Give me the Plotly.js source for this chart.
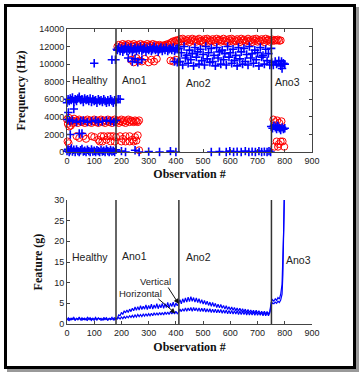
<!DOCTYPE html>
<html><head><meta charset="utf-8">
<script src="https://cdn.plot.ly/plotly-3.0.1.min.js"></script>
<style>
html,body{margin:0;padding:0;background:#fff;}
#wrap{position:relative;width:361px;height:374px;}
#chart{position:absolute;left:0;top:0;width:361px;height:374px;}
#frame{position:absolute;left:4px;top:4px;width:346px;height:359px;border:3px solid #000;box-shadow:3px 3px 0 #999;pointer-events:none;}
</style></head>
<body><div id="wrap"><div id="chart"></div><div id="frame"></div></div>
<script>
// ---- class boundaries and labels ----
const boundaries = [180, 411, 751];
const classLabels = ["Healthy", "Ano1", "Ano2", "Ano3"];
const labelObsTop = [12, 193, 428, 757];
const labelValTop = [8200, 8200, 7900, 8000];
const labelObsBot = [12, 193, 428, 797];
const labelValBot = [16.1, 16.5, 16.2, 15.4];

// ---- top panel: red circles (pairs obs, Hz) ----
const redBand3500 = [[0,3700],[3,3200],[6,3900],[8,2900],[10,3500],[14,3000],[18,3600],[22,3300],[26,3800],[30,3400],[35,3600],[40,3300],[45,3700],[50,3500],[55,3400],[60,3600],[65,3300],[70,3500],[75,3700],[80,3400],[85,3600],[90,3300],[95,3500],[100,3700],[105,3400],[110,3600],[115,3300],[120,3500],[125,3700],[130,3400],[135,3600],[140,3300],[145,3500],[150,3700],[155,3400],[160,3600],[165,3300],[170,3500],[175,3700],[180,3400],[185,3600],[190,3300],[195,3500],[200,3700],[205,3400],[210,3600],[215,3300],[220,3500],[225,3700],[230,3400],[235,3600],[240,3500],[245,3400],[250,3600],[255,3500],[260,3400],[265,3600]];
const redLow = [[35,1800],[45,1600],[60,1800],[70,1500],[90,1800],[100,1700],[115,1400],[125,1800],[135,1800],[145,1400],[150,1800],[160,1800],[170,1800],[180,1700],[195,1800],[205,1500],[215,1800],[230,1800],[240,1400],[250,1700],[260,1900],[2,1200],[6,1000],[120,1200],[130,1200],[160,1200],[175,1200],[200,1200],[215,1200],[230,1200],[245,1200],[255,1300],[265,200]];
const redAno1Top = [[185,12000],[190,12200],[195,11900],[200,12100],[205,12300],[210,12000],[215,12200],[220,12100],[225,12300],[230,11900],[235,12200],[240,12000],[245,12300],[250,12100],[255,11900],[260,12200],[265,12000],[270,12300],[275,12100],[280,12200],[285,11900],[290,12100],[295,12300],[300,12000],[305,12200],[310,12100],[315,12300],[320,11900],[325,12200],[330,12000],[335,12100],[340,12200],[345,11900],[350,12100],[355,12000],[360,12200],[365,12100],[370,12300],[375,12200],[380,12400],[385,12500],[390,12600],[395,12500],[400,12700]];
const redAno2Top = [[405,12700],[410,12500],[415,12850],[420,12600],[425,12900],[430,12550],[435,12750],[440,12650],[445,12850],[450,12500],[455,12700],[460,12900],[465,12600],[470,12800],[475,12550],[480,12750],[485,12900],[490,12600],[495,12700],[500,12500],[505,12850],[510,12650],[515,12900],[520,12550],[525,12750],[530,12600],[535,12850],[540,12700],[545,12500],[550,12900],[555,12650],[560,12800],[565,12550],[570,12700],[575,12900],[580,12600],[585,12750],[590,12500],[595,12850],[600,12650],[605,12900],[610,12550],[615,12750],[620,12600],[625,12850],[630,12700],[635,12500],[640,12900],[645,12650],[650,12800],[655,12550],[660,12700],[665,12900],[670,12600],[675,12750],[680,12500],[685,12850],[690,12650],[695,12900],[700,12550],[705,12750],[710,12600],[715,12850],[720,12700],[725,12500],[730,12900],[735,12650],[740,12800],[745,12550],[750,12700],[755,12800],[760,12650],[765,12750],[770,12700],[775,12800],[780,12650],[785,12700]];
const redMid = [[235,10500],[245,10200],[255,10700],[265,10400],[275,10300],[285,10600],[300,10200],[310,10500],[320,10300],[330,10600],[380,10400],[390,10300],[400,10500]];
const redAno3 = [[758,3700],[765,3400],[772,3600],[780,3300],[788,3500],[762,600],[770,1200],[778,900],[785,1200],[792,1200],[798,600],[775,600]];

// ---- top panel: blue crosses (pairs obs, Hz) ----
const blueZero = [[0,100],[4,300],[8,0],[12,200],[16,400],[20,50],[25,250],[30,0],[35,300],[40,100],[45,0],[50,200],[55,350],[60,50],[65,150],[70,0],[75,250],[80,100],[85,0],[90,300],[95,50],[100,150],[105,0],[110,200],[115,100],[120,0],[125,250],[130,50],[135,150],[140,0],[145,300],[150,100],[155,0],[160,200],[165,50],[170,150],[175,0],[180,250],[200,100],[215,0],[250,200],[265,0],[300,50],[340,0],[380,100],[400,0],[530,0],[560,50],[585,0],[598,100],[612,0],[625,50],[640,0],[655,100],[668,0],[680,50],[692,0],[705,100],[715,0],[725,50],[735,0],[742,100],[748,0]];
const blue6000 = [[0,5600],[4,6000],[8,5800],[12,6100],[16,5900],[20,6200],[25,5700],[30,6000],[35,5800],[40,6100],[45,6300],[50,5900],[55,6000],[60,5700],[65,6100],[70,5900],[75,6000],[80,5800],[85,6100],[90,5700],[95,6000],[100,5800],[105,5900],[110,5600],[115,6000],[120,5800],[125,5900],[130,5700],[135,6000],[140,5800],[145,5600],[150,5900],[155,5700],[160,6000],[165,5800],[170,5600],[175,5900],[180,5700],[188,6000],[195,6000]];
const blue3500 = [[2,3700],[10,3500],[20,3600],[35,3400],[50,3500],[60,3600],[75,3400],[90,3500],[105,3600],[115,3400],[130,3500],[145,3600],[160,3500],[172,3400],[180,3600]];
const blueOut = [[5,4500],[25,4900],[12,2000],[45,2100],[55,2100],[100,10100],[165,10500],[178,10500],[183,11700]];
const blueAno1 = [[185,11600],[190,11900],[195,11500],[200,11800],[205,11400],[210,11700],[215,12000],[220,11500],[225,11800],[230,11600],[235,11900],[240,11400],[245,11700],[250,11900],[255,11500],[260,11800],[265,11600],[270,12000],[275,11500],[280,11700],[285,11900],[290,11400],[295,11800],[300,11600],[305,11900],[310,11500],[315,11700],[320,12000],[325,11600],[330,11800],[335,11400],[340,11700],[345,11900],[350,11500],[355,11800],[360,11600],[365,11900],[370,11500],[375,11700],[380,11800],[385,11600],[390,11900],[395,11500],[400,11700],[405,11800],[225,10700],[240,10300],[250,10600],[260,10200],[275,10500],[395,10300],[405,10200]];
const blueAno2 = [[410,11800],[415,10300],[420,11300],[425,9900],[430,12000],[435,10700],[440,11000],[445,10100],[450,11600],[455,10500],[460,11200],[465,9800],[470,11900],[475,10800],[480,11400],[485,10000],[490,11700],[495,10400],[500,11100],[505,9900],[510,12000],[515,10600],[520,11300],[525,10200],[530,11800],[535,10300],[540,11000],[545,9800],[550,11900],[555,10700],[560,11400],[565,10000],[570,11600],[575,10500],[580,11200],[585,9900],[590,12000],[595,10800],[600,11300],[605,10100],[610,11700],[615,10400],[620,11000],[625,9800],[630,11900],[635,10600],[640,11400],[645,10000],[650,11800],[655,10300],[660,11100],[665,9900],[670,12000],[675,10700],[680,11200],[685,10100],[690,11600],[695,10500],[700,11300],[705,9800],[710,11900],[715,10800],[720,11000],[725,10000],[730,11700],[735,10400],[740,11200],[745,9900],[750,11800]];
const blueAno3 = [[752,10200],[758,9900],[765,10300],[770,10000],[778,10400],[785,9800],[790,9500],[795,10100],[800,10000],[788,10300],[750,2900],[755,2700],[760,3000],[765,2800],[770,2600],[775,2900],[780,2700],[785,2500],[790,2800],[795,2600],[800,2700],[772,3000]];

// ---- bottom panel: feature lines ----
const obsLine = [0,5,10,15,20,25,30,35,40,45,50,55,60,65,70,75,80,85,90,95,100,105,110,115,120,125,130,135,140,145,150,155,160,165,170,175,180,
185,190,195,200,205,210,215,220,225,230,235,240,245,250,255,260,265,270,275,280,285,290,295,300,305,310,315,320,325,330,335,340,345,350,355,360,365,370,375,380,385,390,395,400,405,
410,415,420,425,430,435,440,445,450,455,460,465,470,475,480,485,490,495,500,505,510,515,520,525,530,535,540,545,550,555,560,565,570,575,580,585,590,595,600,605,610,615,620,625,630,635,640,645,650,655,660,665,670,675,680,685,690,695,700,705,710,715,720,725,730,735,740,745,
750,755,760,765,770,775,780,785,790,793,796,798];
const vertical = [1.0,1.5,0.9,1.4,1.1,1.6,1.0,1.4,1.2,1.7,0.9,1.5,1.1,1.4,1.0,1.6,1.2,1.5,0.9,1.4,1.1,1.6,1.0,1.5,1.2,1.4,0.9,1.6,1.1,1.5,1.0,1.4,1.2,1.6,1.0,1.5,1.3,
1.4,2.2,2.0,2.8,2.3,3.2,2.7,3.4,2.8,3.6,3.0,3.8,3.2,4.1,3.3,4.2,3.4,4.4,3.5,4.3,3.6,4.6,3.5,4.5,3.7,4.8,3.6,4.6,3.8,4.9,3.7,4.7,3.9,5.0,3.8,4.9,4.0,5.2,3.9,5.0,4.2,5.3,4.1,5.1,4.4,
5.0,5.9,4.9,6.1,5.2,6.3,5.3,6.5,5.4,6.6,5.5,6.4,5.3,6.3,5.2,6.1,5.0,5.9,4.8,5.7,4.7,5.5,4.5,5.3,4.3,5.2,4.2,5.0,4.0,4.8,3.9,4.7,3.8,4.5,3.6,4.4,3.5,4.2,3.4,4.1,3.3,4.0,3.2,3.9,3.1,3.8,3.0,3.7,2.9,3.6,2.8,3.5,2.8,3.4,2.7,3.3,2.6,3.3,2.6,3.2,2.5,3.1,2.5,3.1,2.4,3.0,2.4,3.0,
5.2,5.9,5.5,6.1,5.7,6.4,6.0,7.2,9.6,14.5,23,30];
const horizontal = [1.2,0.9,1.3,1.0,1.4,1.1,0.9,1.3,1.0,1.4,1.1,0.9,1.3,1.0,1.2,0.9,1.4,1.0,1.3,1.1,0.9,1.3,1.0,1.4,1.1,0.9,1.2,1.0,1.4,1.1,0.9,1.3,1.0,1.2,1.4,1.0,1.3,
1.2,1.6,1.2,1.7,1.3,1.8,1.4,1.9,1.5,2.0,1.6,2.1,1.6,2.2,1.7,2.3,1.8,2.3,1.8,2.4,1.9,2.5,1.9,2.5,2.0,2.6,2.0,2.7,2.1,2.7,2.1,2.8,2.2,2.8,2.2,2.9,2.3,2.9,2.3,3.0,2.4,3.0,2.4,3.1,2.5,
2.9,3.6,3.0,3.7,3.1,3.9,3.1,3.9,3.2,4.0,3.1,4.0,3.2,3.9,3.1,3.9,3.0,3.8,3.0,3.8,2.9,3.7,2.9,3.7,2.8,3.6,2.8,3.6,2.7,3.5,2.7,3.5,2.6,3.4,2.6,3.4,2.5,3.3,2.5,3.3,2.4,3.2,2.4,3.2,2.3,3.1,2.3,3.1,2.3,3.0,2.2,3.0,2.2,2.9,2.2,2.9,2.1,2.9,2.1,2.8,2.1,2.8,2.0,2.8,2.0,2.7,2.0,2.7,
4.6,5.1,4.9,5.3,5.0,5.5,5.2,5.8,7.2,12,21,30];

const redPts = [].concat(redBand3500, redLow, redAno1Top, redAno2Top, redMid, redAno3);
const bluePts = [].concat(blueZero, blue6000, blue3500, blueOut, blueAno1, blueAno2, blueAno3);

const traces = [
  {type:'scatter', mode:'markers', x:redPts.map(p=>p[0]), y:redPts.map(p=>p[1]), xaxis:'x', yaxis:'y', cliponaxis:false,
   marker:{symbol:'circle-open', size:7, color:'#ff0000', line:{width:1, color:'#ff0000'}}, hoverinfo:'skip'},
  {type:'scatter', mode:'markers', x:bluePts.map(p=>p[0]), y:bluePts.map(p=>p[1]), xaxis:'x', yaxis:'y', cliponaxis:false,
   marker:{symbol:'cross-thin', size:6, color:'#0000ff', line:{width:1.6, color:'#0000ff'}}, hoverinfo:'skip'},
  {type:'scatter', mode:'lines', x:obsLine, y:horizontal, xaxis:'x2', yaxis:'y2', line:{color:'#0000ff', width:1.2}, hoverinfo:'skip'},
  {type:'scatter', mode:'lines', x:obsLine, y:vertical, xaxis:'x2', yaxis:'y2', line:{color:'#0000ff', width:1.2}, hoverinfo:'skip'}
];

const tickFont = {family:'Liberation Sans, Arial, sans-serif', size:9, color:'#222'};
const titleFont = {family:'Liberation Serif, Times New Roman, serif', size:12, color:'#111'};
const axBase = {showgrid:false, zeroline:false, showline:true, linecolor:'#444', linewidth:1, ticks:'inside', ticklen:3, tickcolor:'#444', tickfont:tickFont, tickformat:'d', fixedrange:true};

const shapes = [];
boundaries.forEach(b => {
  shapes.push({type:'line', xref:'x', yref:'y', x0:b, x1:b, y0:0, y1:14000, line:{color:'#333', width:1.5}});
  shapes.push({type:'line', xref:'x2', yref:'y2', x0:b, x1:b, y0:0, y1:30, line:{color:'#333', width:1.5}});
});

const annFont = {family:'Liberation Sans, Arial, sans-serif', size:10.5, color:'#222'};
const annotations = [];
classLabels.forEach((t,i) => {
  annotations.push({xref:'x', yref:'y', x:labelObsTop[i], y:labelValTop[i], text:t, showarrow:false, xanchor:'left', yanchor:'middle', font:annFont});
  annotations.push({xref:'x2', yref:'y2', x:labelObsBot[i], y:labelValBot[i], text:t, showarrow:false, xanchor:'left', yanchor:'middle', font:annFont});
});
const smallFont = {family:'Liberation Sans, Arial, sans-serif', size:9.5, color:'#222'};
annotations.push({xref:'x2', yref:'y2', x:260, y:10.3, text:'Vertical', showarrow:false, xanchor:'left', font:smallFont});
annotations.push({xref:'x2', yref:'y2', x:184, y:7.4, text:'Horizontal', showarrow:false, xanchor:'left', font:smallFont});
annotations.push({xref:'x2', yref:'y2', axref:'x2', ayref:'y2', x:410, y:4.9, ax:368, ay:9.2, text:'', showarrow:true, arrowhead:2, arrowsize:1, arrowwidth:1, arrowcolor:'#111'});
annotations.push({xref:'x2', yref:'y2', axref:'x2', ayref:'y2', x:398, y:2.6, ax:330, ay:6.4, text:'', showarrow:true, arrowhead:2, arrowsize:1, arrowwidth:1, arrowcolor:'#111'});

const layout = {
  width:361, height:374, margin:{l:67, r:49, t:29, b:50},
  paper_bgcolor:'#fff', plot_bgcolor:'#fff', showlegend:false,
  xaxis: Object.assign({}, axBase, {anchor:'y', domain:[0,1], range:[0,900], dtick:100, mirror:'ticks',
     title:{text:'<b>Observation #</b>', font:titleFont, standoff:4}}),
  yaxis: Object.assign({}, axBase, {anchor:'x', domain:[0.583,1], range:[0,14000], dtick:2000, mirror:'ticks',
     title:{text:'<b>Frequency (Hz)</b>', font:titleFont, standoff:10}}),
  xaxis2: Object.assign({}, axBase, {anchor:'y2', domain:[0,1], range:[0,900], dtick:100,
     title:{text:'<b>Observation #</b>', font:titleFont, standoff:5}}),
  yaxis2: Object.assign({}, axBase, {anchor:'x2', domain:[0,0.4203], range:[0,30], dtick:5,
     title:{text:'<b>Feature (g)</b>', font:titleFont, standoff:8}}),
  shapes: shapes, annotations: annotations
};
Plotly.newPlot('chart', traces, layout, {staticPlot:true, displayModeBar:false});
</script></body></html>
